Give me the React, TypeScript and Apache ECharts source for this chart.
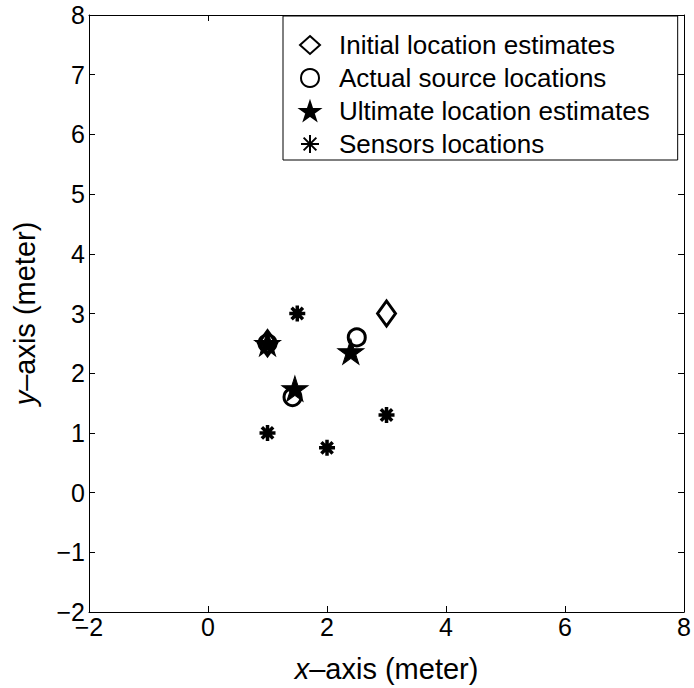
import React, { useEffect, useRef } from "react";
import * as echarts from "echarts";

const xTicks = [-2, 0, 2, 4, 6, 8];
const yTicks = [-2, -1, 0, 1, 2, 3, 4, 5, 6, 7, 8];
const initialEstimates: number[][] = [[1, 2.5], [3, 3]];
const actualSources: number[][] = [[1, 2.5], [1.42, 1.6], [2.5, 2.6]];
const ultimateEstimates: number[][] = [[1, 2.5], [1.46, 1.74], [2.4, 2.36]];
const sensors: number[][] = [[1.5, 3], [1, 1], [2, 0.75], [3, 1.3]];
const seriesNames = [
  "Initial location estimates",
  "Actual source locations",
  "Ultimate location estimates",
  "Sensors locations",
];

const STAR =
  "path://M0,-1L0.2245,-0.309L0.951,-0.309L0.363,0.118L0.588,0.809L0,0.382L-0.588,0.809L-0.363,0.118L-0.951,-0.309L-0.2245,-0.309Z";
const ASTER =
  "path://M0,-1L0,1M-1,0L1,0M-0.707,-0.707L0.707,0.707M-0.707,0.707L0.707,-0.707";

const FONT = "Liberation Sans, Arial, Helvetica, sans-serif";
const fmt = (v: number) => (v < 0 ? "\u2212" + Math.abs(v) : String(v));

export default function App() {
  const ref = useRef<HTMLDivElement>(null);
  useEffect(() => {
    if (!ref.current) return;
    const chart = echarts.init(ref.current, null, { renderer: "svg" });
    const axisCommon = {
      type: "value" as const,
      interval: 1,
      axisLine: { show: true, onZero: false, lineStyle: { color: "#000", width: 1 } },
      axisTick: { show: true, inside: true, length: 6, lineStyle: { color: "#000" } },
      splitLine: { show: false },
    };
    const titleStyle = {
      fontSize: 29,
      color: "#000",
      fontFamily: FONT,
      rich: { i: { fontSize: 29, fontStyle: "italic", fontFamily: FONT, color: "#000" } },
    };
    chart.setOption({
      animation: false,
      backgroundColor: "#fff",
      textStyle: { fontFamily: FONT },
      grid: { left: 89, right: 9, top: 15, bottom: 75, containLabel: false },
      legend: {
        orient: "vertical",
        left: 283,
        top: 16,
        data: seriesNames,
        backgroundColor: "#fff",
        borderColor: "#000",
        borderWidth: 1,
        borderRadius: 0,
        padding: [16, 28, 3, 16],
        itemWidth: 20,
        itemHeight: 18,
        itemGap: 7,
        textStyle: {
          fontSize: 26,
          color: "#000",
          fontFamily: FONT,
          padding: [0, 0, 0, 14],
        },
      },
      xAxis: [
        {
          ...axisCommon,
          min: -2,
          max: 8,
          interval: 2,
          position: "bottom",
          name: "{i|x}\u2013axis (meter)",
          nameLocation: "middle",
          nameGap: 42,
          nameTextStyle: titleStyle,
          axisLabel: { fontSize: 25, color: "#000", margin: 2, formatter: fmt, fontFamily: FONT },
        },
        {
          ...axisCommon,
          min: -2,
          max: 8,
          interval: 2,
          position: "top",
          axisLabel: { show: false },
        },
      ],
      yAxis: [
        {
          ...axisCommon,
          min: -2,
          max: 8,
          position: "left",
          name: "{i|y}\u2013axis (meter)",
          nameLocation: "middle",
          nameGap: 50,
          nameTextStyle: titleStyle,
          axisLabel: { fontSize: 25, color: "#000", margin: 4, formatter: fmt, fontFamily: FONT },
        },
        {
          ...axisCommon,
          min: -2,
          max: 8,
          position: "right",
          axisLabel: { show: false },
        },
      ],
      series: [
        {
          name: seriesNames[0],
          type: "scatter",
          data: initialEstimates,
          symbol: "diamond",
          symbolSize: [18, 25],
          itemStyle: { color: "rgba(255,255,255,0)", borderColor: "#000", borderWidth: 3, opacity: 1 },
        },
        {
          name: seriesNames[1],
          type: "scatter",
          data: actualSources,
          symbol: "circle",
          symbolSize: 17,
          itemStyle: { color: "rgba(255,255,255,0)", borderColor: "#000", borderWidth: 3, opacity: 1 },
        },
        {
          name: seriesNames[2],
          type: "scatter",
          data: ultimateEstimates,
          symbol: STAR,
          symbolSize: [26, 25],
          itemStyle: { color: "#000", borderColor: "#000", borderWidth: 1, opacity: 1 },
        },
        {
          name: seriesNames[3],
          type: "scatter",
          data: sensors,
          symbol: ASTER,
          symbolSize: 16,
          itemStyle: { color: "rgba(0,0,0,0)", borderColor: "#000", borderWidth: 3.5, opacity: 1 },
        },
      ],
    });
    return () => chart.dispose();
  }, []);
  return <div ref={ref} style={{ width: 694, height: 688, position: "absolute", left: 0, top: 0 }} />;
}
